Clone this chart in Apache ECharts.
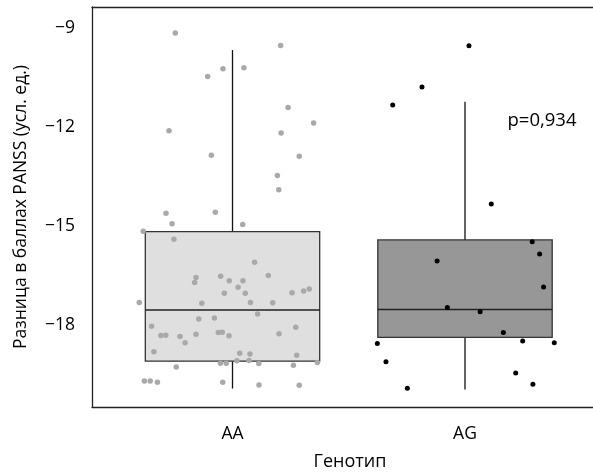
<!DOCTYPE html>
<html>
<head>
<meta charset="utf-8">
<script src="https://cdn.jsdelivr.net/npm/echarts@6/dist/echarts.min.js"></script>
<style>
  html, body { margin: 0; padding: 0; background: #fff; }
</style>
</head>
<body>
<div id="chart" style="width: 593px; height: 472px"></div>
<script>
// genotype groups (x position 1 = AA, 2 = AG)
const groups = ["AA", "AG"];
const yTicks = [-18, -15, -12, -9];

// box stats: [x, lower whisker, Q1, median, Q3, upper whisker]
const boxAA = [1, -19.93, -19.1, -17.55, -15.17, -9.66];
const boxAG = [2, -19.96, -18.38, -17.53, -15.42, -11.23];

// jittered points, x in group units
const aaX = [0.754, 1.207, 0.959, 1.049, 0.893, 1.239, 1.349, 0.727, 1.209, 0.909, 1.287, 1.193, 1.199, 0.714,
  0.926, 0.74, 1.044, 0.616, 0.748, 1.095, 0.843, 0.837, 0.949, 0.986, 1.045, 1.154, 1.024, 0.965, 1.055, 1.256,
  1.306, 1.33, 0.599, 0.868, 1.077, 1.173, 1.108, 0.855, 0.922, 0.652, 1.272, 0.692, 0.713, 0.774, 0.843, 0.939,
  0.956, 0.985, 1.2, 0.796, 0.662, 1.031, 1.075, 1.276, 1.019, 1.071, 0.948, 0.973, 1.113, 1.365, 1.262, 0.758,
  0.621, 0.646, 0.677, 0.958, 1.114, 1.287];
const aaY = [-9.14, -9.52, -10.23, -10.2, -10.46, -11.4, -11.87, -12.11, -12.18, -12.85, -12.88, -13.47, -13.9, -14.61,
  -14.58, -14.93, -14.95, -15.16, -15.4, -16.1, -16.56, -16.71, -16.52, -16.66, -16.66, -16.5, -16.86, -17.04, -17.04, -17.02,
  -16.97, -16.91, -17.32, -17.34, -17.32, -17.33, -17.67, -17.82, -17.79, -18.04, -18.07, -18.32, -18.31, -18.35, -18.28, -18.23,
  -18.22, -18.33, -18.27, -18.54, -18.81, -18.86, -18.88, -18.92, -19.09, -19.08, -19.16, -19.16, -19.17, -19.14, -19.22, -19.28,
  -19.7, -19.7, -19.74, -19.74, -19.82, -19.83];
const agX = [2.017, 1.815, 1.689, 2.113, 2.289, 2.321, 1.88, 2.338, 1.924, 2.065, 2.165, 1.623, 2.248, 2.384, 1.66,
  2.218, 1.752, 2.292];
const agY = [-9.53, -10.78, -11.33, -14.33, -15.48, -15.85, -16.06, -16.85, -17.47, -17.6, -18.23, -18.56, -18.49, -18.54,
  -19.12, -19.46, -19.92, -19.8];

const FONT = "Open Sans";
const chart = echarts.init(document.getElementById("chart"));

const pts = (xs, ys) => xs.map((x, i) => [x, ys[i]]);

const renderBox = (params, api) => {
  const x = api.value(0);
  const half = api.size([0.375, 0])[0];
  const c = api.coord([x, api.value(3)]);
  const lo = api.coord([x, api.value(1)]);
  const q1 = api.coord([x, api.value(2)]);
  const q3 = api.coord([x, api.value(4)]);
  const hi = api.coord([x, api.value(5)]);
  const med = api.coord([x, api.value(3)]);
  const line = { stroke: "#111", lineWidth: 1.3 };
  return {
    type: "group",
    children: [
      { type: "line", shape: { x1: c[0], y1: hi[1], x2: c[0], y2: q3[1] }, style: line },
      { type: "line", shape: { x1: c[0], y1: q1[1], x2: c[0], y2: lo[1] }, style: line },
      {
        type: "rect",
        shape: { x: c[0] - half, y: q3[1], width: half * 2, height: q1[1] - q3[1] },
        style: { fill: api.visual("color"), stroke: "#333", lineWidth: 1.3 },
      },
      { type: "line", shape: { x1: c[0] - half, y1: med[1], x2: c[0] + half, y2: med[1] }, style: { stroke: "#222", lineWidth: 1.5 } },
    ],
  };
};

const option = {
  animation: false,
  backgroundColor: "#fff",
  grid: { left: 92, right: 0, top: 7, bottom: 65 },
  xAxis: [
    {
      type: "value",
      min: 0.3957,
      max: 2.5505,
      splitLine: { show: false },
      axisTick: { show: false },
      axisLine: { show: true, onZero: false, lineStyle: { color: "#222", width: 1.3 } },
      axisLabel: {
        customValues: [1, 2],
        formatter: (v) => groups[Math.round(v) - 1],
        margin: 18,
        color: "#000",
        fontSize: 17.5,
        fontFamily: FONT,
      },
    },
    {
      type: "value",
      position: "top",
      min: 0.3957,
      max: 2.5505,
      splitLine: { show: false },
      axisTick: { show: false },
      axisLabel: { show: false },
      axisLine: { show: true, onZero: false, lineStyle: { color: "#222", width: 1.3 } },
    },
  ],
  yAxis: {
    type: "value",
    min: -20.49,
    max: -8.354,
    splitLine: { show: false },
    axisTick: { show: false },
    axisLine: { show: true, onZero: false, lineStyle: { color: "#222", width: 1.3 } },
    axisLabel: {
      customValues: yTicks,
      formatter: (v) => String(v).replace("-", "\u2212"),
      margin: 17,
      color: "#000",
      fontSize: 17.5,
      fontFamily: FONT,
    },
    name: "Разница в баллах PANSS (усл. ед.)",
    nameLocation: "middle",
    nameGap: 62,
    nameTextStyle: { color: "#000", fontSize: 17.5, fontFamily: FONT },
  },
  graphic: [
    {
      type: "text",
      x: 350,
      y: 462,
      style: { text: "Генотип", fill: "#000", font: "18px '" + FONT + "'", textAlign: "center", textVerticalAlign: "middle" },
    },
    {
      type: "text",
      x: 542,
      y: 121,
      style: { text: "p=0,934", fill: "#000", font: "18.5px '" + FONT + "'", textAlign: "center", textVerticalAlign: "middle" },
    },
  ],
  series: [
    {
      type: "custom",
      renderItem: renderBox,
      itemStyle: { color: "#dfdfdf" },
      data: [boxAA],
      encode: { x: 0, y: [1, 2, 3, 4, 5] },
      z: 1,
    },
    {
      type: "custom",
      renderItem: renderBox,
      itemStyle: { color: "#979797" },
      data: [boxAG],
      encode: { x: 0, y: [1, 2, 3, 4, 5] },
      z: 1,
    },
    {
      type: "scatter",
      data: pts(aaX, aaY),
      symbolSize: 5.5,
      itemStyle: { color: "#a9a9a9", opacity: 1 },
      z: 3,
    },
    {
      type: "scatter",
      data: pts(agX, agY),
      symbolSize: 5,
      itemStyle: { color: "#000", opacity: 1 },
      z: 3,
    },
  ],
};
chart.setOption(option);
</script>
</body>
</html>
